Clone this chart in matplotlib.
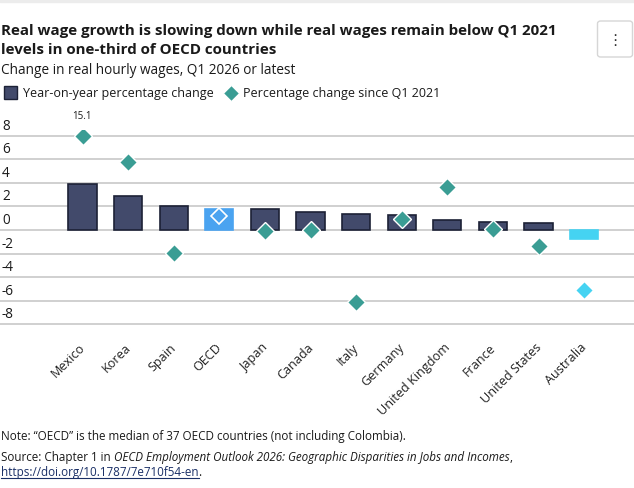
import matplotlib
matplotlib.use("Agg")
import matplotlib.pyplot as plt
from matplotlib.patches import FancyBboxPatch, Rectangle
from matplotlib.lines import Line2D

plt.rcParams['font.family'] = ['Open Sans', 'DejaVu Sans']

countries = ["Mexico", "Korea", "Spain", "OECD", "Japan", "Canada", "Italy",
             "Germany", "United Kingdom", "France", "United States", "Australia"]
yoy_change = [3.9, 2.9, 2.0, 1.75, 1.75, 1.5, 1.35, 1.25, 0.82, 0.65, 0.57, -0.73]
since_2021 = [15.1, 5.75, -1.95, 1.2, -0.08, 0.03, -6.1, 0.93, 3.65, 0.1, -1.38, -5.1]
y_ticks = [8, 6, 4, 2, 0, -2, -4, -6, -8]

NAVY = "#424a6b"
NAVY_EDGE = "#1c2136"
OECD_BLUE = "#4aa3f0"
AUS_CYAN = "#45d3f2"
TEAL = "#3a9d94"
GRID = "#c4c4c4"
TXT = "#1a1a1a"
LINK = "#1a2f66"

W, H = 634, 489
fig = plt.figure(figsize=(W / 100, H / 100), dpi=100)
fig.canvas.draw()
renderer = fig.canvas.get_renderer()


def fy(px):
    return 1 - px / H


def fit(t, target):
    for _ in range(3):
        w = t.get_window_extent(renderer=renderer).width
        t.set_fontsize(t.get_fontsize() * target / w)
    return t


# top band
fig.patches.append(Rectangle((0, fy(3)), 1, 3 / H, transform=fig.transFigure,
                             color="#ececec", zorder=0))

ymin, ymax = -8.5, 8.5
px_per_unit = 11.81
top_px = 231 - ymax * px_per_unit
bot_px = 231 - ymin * px_per_unit
ax = fig.add_axes([0, fy(bot_px), 1, (bot_px - top_px) / H])
ax.set_ylim(ymin, ymax)
n = len(countries)
step = 45.6
x0 = 82.5
ax.set_xlim((0 - x0) / step, (W - x0) / step)

for s in ax.spines.values():
    s.set_visible(False)
ax.set_yticks([])
ax.set_xticks([])

for t in y_ticks:
    ax.axhline(t, color=GRID, lw=1.1, zorder=0)
    ax.annotate(f"{t}", xy=(0, t), xycoords=("axes fraction", "data"),
                xytext=(2, 3), textcoords="offset pixels", ha="left", va="bottom",
                fontsize=9.8, color=TXT)

xs = list(range(n))
bar_colors = []
edge_colors = []
for c in countries:
    if c == "OECD":
        bar_colors.append(OECD_BLUE); edge_colors.append(OECD_BLUE)
    elif c == "Australia":
        bar_colors.append(AUS_CYAN); edge_colors.append(AUS_CYAN)
    else:
        bar_colors.append(NAVY); edge_colors.append(NAVY_EDGE)
ax.bar(xs, yoy_change, width=0.62, color=bar_colors, edgecolor=edge_colors,
       linewidth=1.2, zorder=2)

cap = 8
for i, (c, v) in enumerate(zip(countries, since_2021)):
    y = min(v, cap)
    if c == "OECD":
        ax.plot(i, y, marker="D", ms=8.5, mfc="none", mec="white", mew=1.2, zorder=4)
    elif c == "Australia":
        ax.plot(i, y, marker="D", ms=9, mfc=AUS_CYAN, mec="white", mew=1.0, zorder=4)
    else:
        ax.plot(i, y, marker="D", ms=9, mfc=TEAL, mec="white", mew=1.0, zorder=4)
    if v > cap:
        ax.annotate(f"{v}", xy=(i, y), xytext=(-1, 20), textcoords="offset pixels",
                    ha="center", va="center", fontsize=7, color=TXT,
                    annotation_clip=False)

# category labels (rotated)
probe = fig.text(0, 0, "United Kingdom", fontsize=10)
fit(probe, 96)
lab_size = probe.get_fontsize()
probe.remove()
for i, c in enumerate(countries):
    ax.annotate(c, xy=(i, 0), xycoords=("data", "axes fraction"),
                xytext=(-4, -10), textcoords="offset pixels",
                ha="right", va="top", rotation=45, rotation_mode="anchor",
                fontsize=lab_size, color="#222222", annotation_clip=False)

# Title
t1 = fig.text(1 / W, fy(30), "Real wage growth is slowing down while real wages remain below Q1 2021",
              fontsize=11, fontweight="bold", color=TXT, va="center_baseline", ha="left")
fit(t1, 556)
fig.text(1 / W, fy(48.5), "levels in one-third of OECD countries",
         fontsize=t1.get_fontsize(), fontweight="bold", color=TXT, va="center_baseline", ha="left")
st = fig.text(1 / W, fy(68), "Change in real hourly wages, Q1 2026 or latest",
              fontsize=10, color=TXT, va="center_baseline", ha="left")
fit(st, 294)

# menu button
fig.patches.append(FancyBboxPatch((597.5 / W, fy(58)), 35 / W, 36 / H,
                                  boxstyle="round,pad=0,rounding_size=0.005",
                                  transform=fig.transFigure, fc="white",
                                  ec="#d6d6d6", lw=1))
fig.text(615 / W, fy(41), "⋮", fontsize=11, ha="center", va="center",
         color="#333333", family="DejaVu Sans")

# Legend
ly = fy(94)
fig.patches.append(Rectangle((3.5 / W, fy(100)), 13.5 / W, 13 / H, transform=fig.transFigure,
                             fc=NAVY, ec=NAVY_EDGE, lw=1))
l1 = fig.text(23 / W, ly, "Year-on-year percentage change", fontsize=10, color=TXT,
              va="center", ha="left")
fit(l1, 189)
fig.lines.append(Line2D([231 / W], [fy(94)], marker="D", ms=8, mfc=TEAL, mec="white",
                        mew=0.8, transform=fig.transFigure))
l2 = fig.text(243 / W, ly, "Percentage change since Q1 2021", fontsize=l1.get_fontsize(), color=TXT,
              va="center", ha="left")

# Notes
note = fig.text(1 / W, fy(440), "Note: \u201cOECD\u201d is the median of 37 OECD countries (not including Colombia).",
                va="baseline", ha="left", fontsize=9, color=TXT)
fit(note, 405)
ns = note.get_fontsize()

parts = [("Source: Chapter 1 in ", {}),
         ("OECD Employment Outlook 2026: Geographic Disparities in Jobs and Incomes", {"style": "italic"}),
         (",", {})]
x = 1
for s, kw in parts:
    opts = dict(va="baseline", ha="left", fontsize=ns, color=TXT)
    opts.update(kw)
    t = fig.text(x / W, fy(461), s, **opts)
    x += t.get_window_extent(renderer=renderer).width

link = "https://doi.org/10.1787/7e710f54-en"
t = fig.text(1 / W, fy(476), link, va="baseline", ha="left", fontsize=ns, color=LINK)
bb = t.get_window_extent(renderer=renderer)
fig.lines.append(Line2D([1 / W, (1 + bb.width) / W], [fy(479), fy(479)],
                        color=LINK, lw=0.8, transform=fig.transFigure))
fig.text((1 + bb.width) / W, fy(476), ".", va="baseline", ha="left", fontsize=ns, color=TXT)

fig.savefig("out.png", dpi=100)
